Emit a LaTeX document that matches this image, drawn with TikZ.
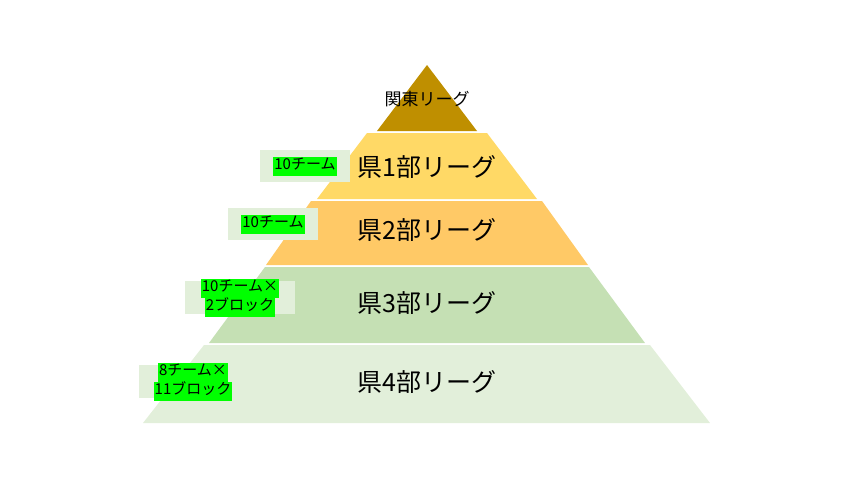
\documentclass[tikz,border=0pt]{standalone}
\usepackage{fontspec}
\setmainfont{Noto Sans CJK JP}

\definecolor{kanto}{HTML}{BF8F00}
\definecolor{tierone}{HTML}{FFD966}
\definecolor{tiertwo}{HTML}{FFC966}
\definecolor{tierthree}{HTML}{C5E0B4}
\definecolor{tierfour}{HTML}{E2EFDA}
\definecolor{hlgreen}{HTML}{00FF00}

\newcommand{\hlbox}[1]{{\setlength{\fboxsep}{0pt}\colorbox{hlgreen}{\strut\hspace{1pt}#1\hspace{1pt}}}}

\begin{document}
\begin{tikzpicture}[x=1pt,y=-1pt,
		leaguename/.style={inner sep=0pt,font=\fontsize{25}{30}\selectfont},
		labelbox/.style={fill=tierfour,inner sep=0pt,minimum width=90pt,minimum height=32pt},
		teamlabel/.style={inner sep=0pt,align=center,font=\fontsize{15}{19}\selectfont}]

		\useasboundingbox (0,0) rectangle (853,480);

		\fill[kanto] (427,65) -- (477,131) -- (377,131) -- cycle;
		\fill[tierone] (367,133) -- (487,133) -- (537,199) -- (317,199) -- cycle;
		\fill[tiertwo] (311,201) -- (542,201) -- (588,265) -- (266,265) -- cycle;
		\fill[tierthree] (265,267) -- (589,267) -- (645,343) -- (209,343) -- cycle;
		\fill[tierfour] (204,345) -- (650,345) -- (710,423) -- (143,423) -- cycle;

		\node (kanto) at (427,99) [inner sep=0pt,font=\fontsize{17}{20}\selectfont] {関東リーグ};
		\node (ken1) at (427,167) [leaguename] {県1部リーグ};
		\node (ken2) at (427,230) [leaguename] {県2部リーグ};
		\node (ken3) at (427,303) [leaguename] {県3部リーグ};
		\node (ken4) at (427,382) [leaguename] {県4部リーグ};

		\node (box1) at (305,166) [labelbox] {};
		\node (box2) at (273,224) [labelbox] {};
		\node (box3) at (240,297.5) [labelbox,minimum width=110pt,minimum height=33pt] {};
		\node (box4) at (193,381.5) [labelbox,minimum width=108pt,minimum height=33pt] {};

		\node (team1) at (box1) [teamlabel] {\hlbox{10チーム}};
		\node (team2) at (box2) [teamlabel] {\hlbox{10チーム}};
		\node (team3) at (box3) [teamlabel] {\hlbox{10チーム×}\\\hlbox{2ブロック}};
		\node (team4) at (box4) [teamlabel] {\hlbox{8チーム×}\\\hlbox{11ブロック}};

\end{tikzpicture}
\end{document}
